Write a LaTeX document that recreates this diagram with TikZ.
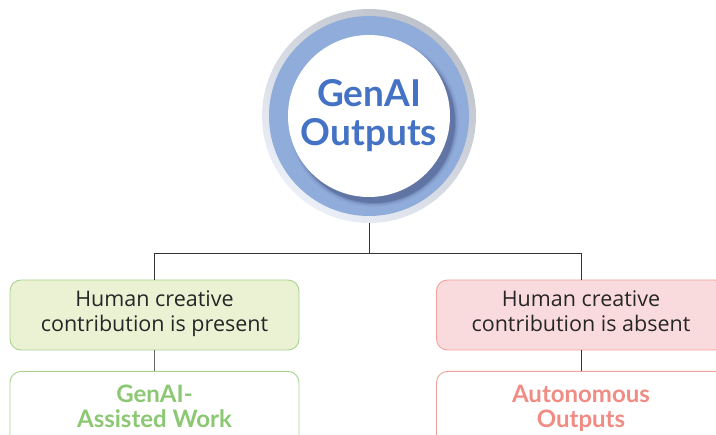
\documentclass[tikz,border=0pt]{standalone}
\usepackage{fontspec}
\setmainfont{Open Sans}
\newfontfamily\titlefont{Lato}
\usepackage{xcolor}
\usepackage{tikz}
\usetikzlibrary{calc,positioning}
\definecolor{ringblue}{HTML}{90ACDB}
\definecolor{ringgray}{HTML}{BEC2CA}
\definecolor{ringlight}{HTML}{EBEFF7}
\definecolor{titleblue}{HTML}{4472C4}
\definecolor{greenfill}{HTML}{EBF2D4}
\definecolor{greenline}{HTML}{A8D28E}
\definecolor{greentext}{HTML}{8CC873}
\definecolor{pinkfill}{HTML}{FADBDD}
\definecolor{pinkline}{HTML}{F3A19C}
\definecolor{pinktext}{HTML}{F08C84}
\tikzset{
  hub/.style={circle, minimum size=214pt, inner sep=0pt},
  condbox/.style={rounded corners=11pt, line width=0.9pt, minimum width=289pt,
    minimum height=70pt, align=center, font=\fontsize{21.5}{25}\selectfont, text=black!85,
    execute at end node=\strut},
  outbox/.style={rounded corners=11pt, line width=0.9pt, fill=white, minimum width=289pt,
    minimum height=90pt, align=center, font=\titlefont\bfseries\fontsize{24}{25}\selectfont},
  link/.style={draw=black!80, line width=0.8pt}
}

\begin{document}
\begin{tikzpicture}[x=1pt,y=-1pt]
  \useasboundingbox (0,0) rectangle (716,435);
  \clip (0,0) rectangle (716,435);

  % central circle
  \node[hub] (hub) at (369,116) {};
  \shade[top color=ringgray, bottom color=ringlight, shading angle=-40] (hub) circle (107);
  \fill[ringblue] (hub) circle (100);
  \foreach \r/\o in {85/0.04,83.5/0.07,82/0.1,81/0.14}
    \fill[black!80!blue, opacity=\o] ($(hub)+(5,6)$) circle (\r);
  \fill[white] (hub) circle (81);
  \node[text=titleblue, font=\titlefont\bfseries\fontsize{37}{39}\selectfont, align=center]
    (title) at (hub) {GenAI\\Outputs};

  % condition boxes
  \node[condbox, draw=greenline, fill=greenfill] (pres) at (154.5,315) {Human creative\\contribution is present};
  \node[condbox, draw=pinkline, fill=pinkfill] (abs) at (581,315) {Human creative\\contribution is absent};

  % outcome boxes
  \node[outbox, draw=greenline, text=greentext, anchor=north] (assist) at (154.5,371) {GenAI-\\Assisted Work\\[-4pt]};
  \node[outbox, draw=pinkline, text=pinktext, anchor=north] (auto) at (581,371) {Autonomous\\Outputs\\[-4pt]};

  \coordinate (split) at (369,253);
  \draw[link] (hub.south) -- (split);
  \draw[link] (split) -| (pres.north);
  \draw[link] (split) -| (abs.north);
  \draw[link, draw=black!60] (pres.south) -- (assist.north);
  \draw[link] (abs.south) -- (auto.north);
\end{tikzpicture}
\end{document}
